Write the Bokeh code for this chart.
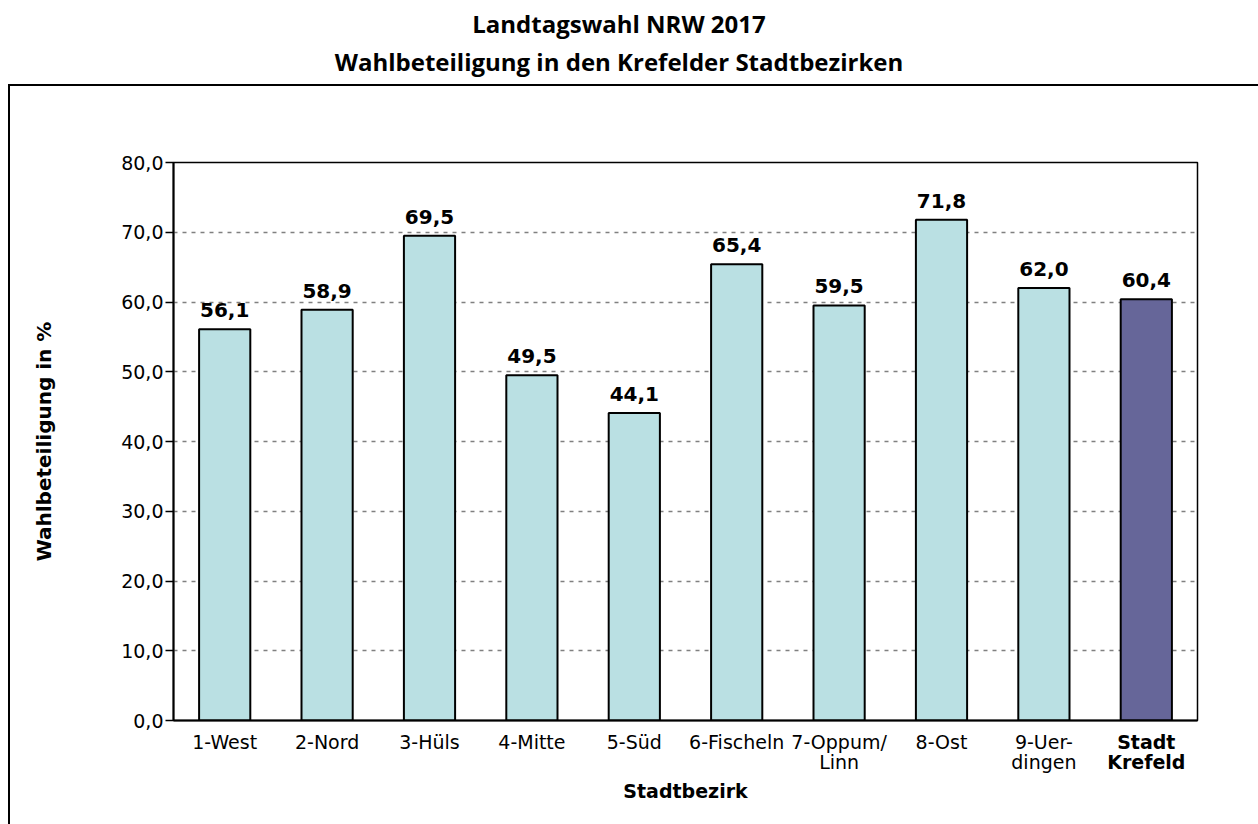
from bokeh.plotting import figure
from bokeh.models import (ColumnDataSource, LabelSet, FixedTicker, Div, LinearAxis, Range1d)
from bokeh.layouts import column
from bokeh.core.properties import value
from bokeh.embed import file_html
from bokeh.resources import INLINE

# ---- data ----
categories = ["1-West", "2-Nord", "3-Hüls", "4-Mitte", "5-Süd", "6-Fischeln",
              "7-Oppum/Linn", "8-Ost", "9-Uerdingen", "Stadt Krefeld"]
tick_labels = ["1-West", "2-Nord", "3-Hüls", "4-Mitte", "5-Süd", "6-Fischeln",
               "7-Oppum/\nLinn", "8-Ost", "9-Uer-\ndingen", "Stadt\nKrefeld"]
turnout = [56.1, 58.9, 69.5, 49.5, 44.1, 65.4, 59.5, 71.8, 62.0, 60.4]
y_ticks = [0, 10, 20, 30, 40, 50, 60, 70, 80]
y_tick_labels = ["0,0", "10,0", "20,0", "30,0", "40,0", "50,0", "60,0", "70,0", "80,0"]
title_lines = ["Landtagswahl NRW 2017", "Wahlbeteiligung in den Krefelder Stadtbezirken"]
x_title = "Stadtbezirk"
y_title = "Wahlbeteiligung in %"

LIGHT = "#BAE0E3"
DARK = "#666699"
colors = [LIGHT] * (len(categories) - 1) + [DARK]
xpos = list(range(len(categories)))

src = ColumnDataSource(dict(
    x=xpos,
    val=turnout,
    lbl=[f"{v:.1f}".replace(".", ",") for v in turnout],
    color=colors,
))

title_div = Div(
    text="<br>".join(title_lines),
    width=1238, height=84, margin=0,
    styles={"text-align": "center", "font-family": "Open Sans", "font-weight": "bold",
            "font-size": "24px", "line-height": "38px", "color": "#000000",
            "padding-top": "5px", "margin": "0px"},
)

p = figure(x_range=Range1d(-0.5, len(categories) - 0.5), y_range=(0, 80),
           width=1250, height=740,
           output_backend="svg", toolbar_location=None,
           min_border_left=163, min_border_right=63, min_border_top=76, min_border_bottom=106)
p.margin = (0, 0, 0, 8)
p.styles = {"border-left": "2px solid black", "border-top": "2px solid black"}

p.vbar(x="x", top="val", width=0.5, source=src, fill_color="color",
       line_color="black", line_width=2)

p.add_layout(LabelSet(x="x", y="val", text="lbl", source=src, y_offset=12,
                      text_align="center", text_baseline="alphabetic",
                      text_font=value("DejaVu Sans"), text_font_style="bold",
                      text_font_size="20px", text_color="black"))

# grid / outline
p.xgrid.grid_line_color = None
p.ygrid.grid_line_color = "#808080"
p.ygrid.grid_line_dash = "4 5"
p.ygrid.grid_line_width = 1.5
p.ygrid.ticker = FixedTicker(ticks=y_ticks)
p.outline_line_color = "black"
p.outline_line_width = 1.5

# y axis
p.yaxis.ticker = FixedTicker(ticks=y_ticks)
p.yaxis.major_label_overrides = {t: l for t, l in zip(y_ticks, y_tick_labels)}
p.yaxis.minor_tick_line_color = None
p.yaxis.major_tick_in = 0
p.yaxis.major_tick_out = 8
p.yaxis.major_tick_line_width = 1.5
p.yaxis.axis_line_width = 2
p.yaxis.major_label_standoff = 2
p.yaxis.major_label_text_font = "DejaVu Sans"
p.yaxis.major_label_text_font_size = "19px"
p.yaxis.major_label_text_color = "black"
p.yaxis.axis_label = y_title
p.yaxis.axis_label_text_font = "DejaVu Sans"
p.yaxis.axis_label_text_font_style = "bold"
p.yaxis.axis_label_text_font_size = "20px"
p.yaxis.axis_label_text_color = "black"
p.yaxis.axis_label_standoff = 62

# x axis (normal labels)
ax1 = p.xaxis[0]
ax1.ticker = FixedTicker(ticks=xpos)
ax1.major_label_overrides = {i: (l if i < len(categories) - 1 else " ")
                             for i, l in zip(xpos, tick_labels)}
ax1.minor_tick_line_color = None
ax1.major_tick_in = 0
ax1.major_tick_out = 0
ax1.axis_line_width = 2
ax1.major_label_standoff = 10
ax1.major_label_text_font = "DejaVu Sans"
ax1.major_label_text_font_size = "19px"
ax1.major_label_text_line_height = 0.95
ax1.major_label_text_color = "black"

# second x axis: bold total label + axis title
ax2 = LinearAxis(ticker=FixedTicker(ticks=xpos))
ax2.major_label_overrides = {i: (l if i == len(categories) - 1 else " ")
                             for i, l in zip(xpos, tick_labels)}
ax2.axis_line_color = None
ax2.major_tick_line_color = None
ax2.minor_tick_line_color = None
ax2.major_tick_in = 0
ax2.major_tick_out = 0
ax2.major_label_standoff = -46
ax2.major_label_text_font = "DejaVu Sans"
ax2.major_label_text_font_style = "bold"
ax2.major_label_text_font_size = "19px"
ax2.major_label_text_line_height = 0.95
ax2.major_label_text_color = "black"
ax2.axis_label = x_title
ax2.axis_label_text_font = "DejaVu Sans"
ax2.axis_label_text_font_style = "bold"
ax2.axis_label_text_font_size = "19px"
ax2.axis_label_text_color = "black"
ax2.axis_label_standoff = 4
p.add_layout(ax2, "below")

layout = column(title_div, p, spacing=0)
open("out.html", "w").write(file_html(layout, INLINE))
